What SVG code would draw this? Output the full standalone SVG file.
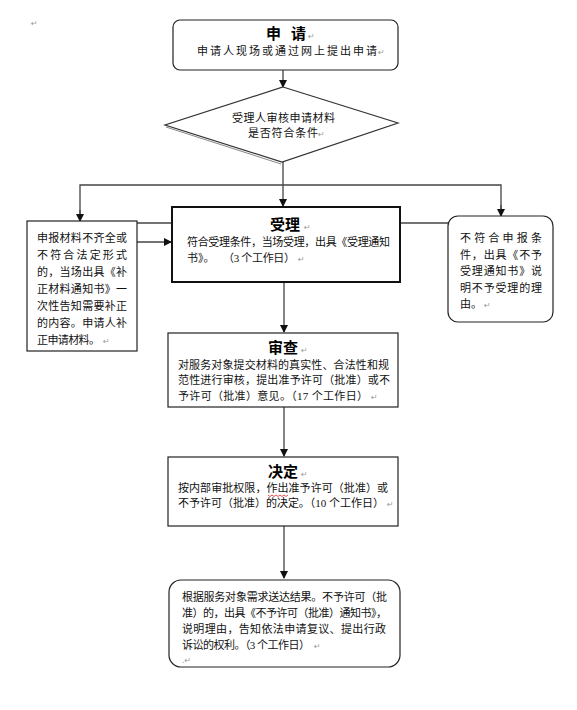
<svg xmlns="http://www.w3.org/2000/svg" width="577" height="710" viewBox="0 0 577 710">
<style>
.box{fill:#fff;stroke:#222;stroke-width:1.2}
.thick{fill:#fff;stroke:#111;stroke-width:2}
.ln{fill:none;stroke:#444;stroke-width:1.3}
.t{font-family:"Liberation Serif","Noto Sans CJK SC",serif;font-size:11px;fill:#111}
.h{font-family:"Noto Sans CJK SC",sans-serif;font-size:15px;font-weight:bold;fill:#000}
.pm{font-family:"DejaVu Sans",sans-serif;font-size:8px;fill:#999}
</style>
<defs>
<marker id="ah" markerWidth="8" markerHeight="8" refX="7" refY="4" orient="auto" markerUnits="userSpaceOnUse">
<path d="M0,0 L8,4 L0,8 Z" fill="#111"/>
</marker>
</defs>
<text class="pm" x="31" y="26">↵</text>
<g id="connectors">
<line class="ln" x1="283" y1="70" x2="283" y2="87" marker-end="url(#ah)"/>
<line class="ln" x1="283" y1="162" x2="283" y2="206" marker-end="url(#ah)"/>
<polyline class="ln" points="80,220 80,185 501,185 501,215" />
<line class="ln" x1="80" y1="210" x2="80" y2="221" marker-end="url(#ah)"/>
<line class="ln" x1="501" y1="205" x2="501" y2="216" marker-end="url(#ah)"/>
<line class="ln" x1="137" y1="223" x2="448" y2="223" stroke="#777"/>
<line class="ln" x1="137" y1="242" x2="171" y2="242" marker-end="url(#ah)"/>
<line class="ln" x1="284" y1="283" x2="284" y2="332" marker-end="url(#ah)"/>
<line class="ln" x1="284" y1="407" x2="284" y2="456" marker-end="url(#ah)"/>
<line class="ln" x1="284" y1="526" x2="284" y2="578" marker-end="url(#ah)"/>
</g>
<g id="apply">
<rect class="box" x="173" y="20" width="225" height="50" rx="7"/>
<text class="h" x="266" y="39" font-size="14" textLength="40" lengthAdjust="spacing">申　请</text>
<text class="pm" x="308" y="39">↵</text>
<text class="t" x="197" y="55" font-size="13" textLength="180" lengthAdjust="spacing">申请人现场或通过网上提出申请</text>
<text class="pm" x="378" y="55">↵</text>
</g>
<g id="check">
<polygon points="283,87 398,123 282,162 165,125" fill="#fff" stroke="#333" stroke-width="1.2"/>
<polyline points="166,127 281,164" fill="none" stroke="#888" stroke-width="1"/>
<text class="t" x="232" y="122" font-size="11.5" textLength="103" lengthAdjust="spacing">受理人审核申请材料</text>
<text class="t" x="248" y="137" font-size="11.5" textLength="70" lengthAdjust="spacing">是否符合条件</text>
<text class="pm" x="318" y="137">↵</text>
</g>
<g id="supplement">
<rect class="box" x="27" y="221" width="110" height="130"/>
<text class="t" x="37" y="242" textLength="90" lengthAdjust="spacing">申报材料不齐全或</text>
<text class="t" x="37" y="259" textLength="90" lengthAdjust="spacing">不符合法定形式</text>
<text class="t" x="37" y="276" textLength="90" lengthAdjust="spacing">的，当场出具《补</text>
<text class="t" x="37" y="293" textLength="90" lengthAdjust="spacing">正材料通知书》一</text>
<text class="t" x="37" y="310" textLength="90" lengthAdjust="spacing">次性告知需要补正</text>
<text class="t" x="37" y="327" textLength="90" lengthAdjust="spacing">的内容。申请人补</text>
<text class="t" x="37" y="344" textLength="63" lengthAdjust="spacing">正申请材料。</text>
<text class="pm" x="103" y="344">↵</text>
</g>
<g id="accept">
<rect class="thick" x="172" y="207" width="228" height="75"/>
<text class="h" x="285" y="230" text-anchor="middle">受理</text>
<text class="pm" x="304" y="230">↵</text>
<text class="t" x="187" y="246" textLength="203" lengthAdjust="spacing">符合受理条件，当场受理，出具《受理通知</text>
<text class="t" x="187" y="262">书》。</text>
<text class="t" x="223" y="262" textLength="72" lengthAdjust="spacing">（3 个工作日）</text>
<text class="pm" x="298" y="262">↵</text>
</g>
<g id="reject">
<rect class="box" x="448" y="216" width="105" height="106" rx="10"/>
<text class="t" x="460" y="242" textLength="82" lengthAdjust="spacing">不符合申报条</text>
<text class="t" x="460" y="258.5" textLength="82" lengthAdjust="spacing">件，出具《不予</text>
<text class="t" x="460" y="275" textLength="82" lengthAdjust="spacing">受理通知书》说</text>
<text class="t" x="460" y="291.5" textLength="82" lengthAdjust="spacing">明不予受理的理</text>
<text class="t" x="460" y="308">由。</text>
<text class="pm" x="484" y="308">↵</text>
</g>
<g id="review">
<rect class="box" x="168" y="333" width="230" height="74"/>
<text class="h" x="283" y="353" text-anchor="middle">审查</text>
<text class="pm" x="301" y="353">↵</text>
<text class="t" x="178" y="369" textLength="211" lengthAdjust="spacing">对服务对象提交材料的真实性、合法性和规</text>
<text class="t" x="178" y="384" textLength="212" lengthAdjust="spacing">范性进行审核，提出准予许可（批准）或不</text>
<text class="t" x="178" y="400" textLength="190" lengthAdjust="spacing">予许可（批准）意见。（17 个工作日）</text>
<text class="pm" x="371" y="400">↵</text>
</g>
<g id="decide">
<rect class="box" x="168" y="457" width="230" height="69"/>
<text class="h" x="283" y="477" text-anchor="middle">决定</text>
<text class="pm" x="301" y="477">↵</text>
<text class="t" x="178" y="492" textLength="210" lengthAdjust="spacing">按内部审批权限，作出准予许可（批准）或</text>
<path d="M268,495 l2,1.5 l2,-1.5 l2,1.5 l2,-1.5 l2,1.5 l2,-1.5 l2,1.5 l2,-1.5 l2,1.5 l2,-1.5" fill="none" stroke="#d22" stroke-width="0.8"/>
<text class="t" x="178" y="507" textLength="206" lengthAdjust="spacing">不予许可（批准）的决定。（10 个工作日）</text>
<text class="pm" x="387" y="507">↵</text>
</g>
<g id="result">
<rect class="box" x="169" y="580" width="231" height="87" rx="12"/>
<text class="t" x="182" y="601" textLength="205" lengthAdjust="spacing">根据服务对象需求送达结果。不予许可（批</text>
<text class="t" x="182" y="617" textLength="205" lengthAdjust="spacing">准）的，出具《不予许可（批准）通知书》，</text>
<text class="t" x="182" y="633" textLength="204" lengthAdjust="spacing">说明理由，告知依法申请复议、提出行政</text>
<text class="t" x="182" y="649" textLength="128" lengthAdjust="spacing">诉讼的权利。（3 个工作日）</text>
<text class="pm" x="314" y="649">↵</text>
<text class="pm" x="182" y="663">.↵</text>
</g>
</svg>
